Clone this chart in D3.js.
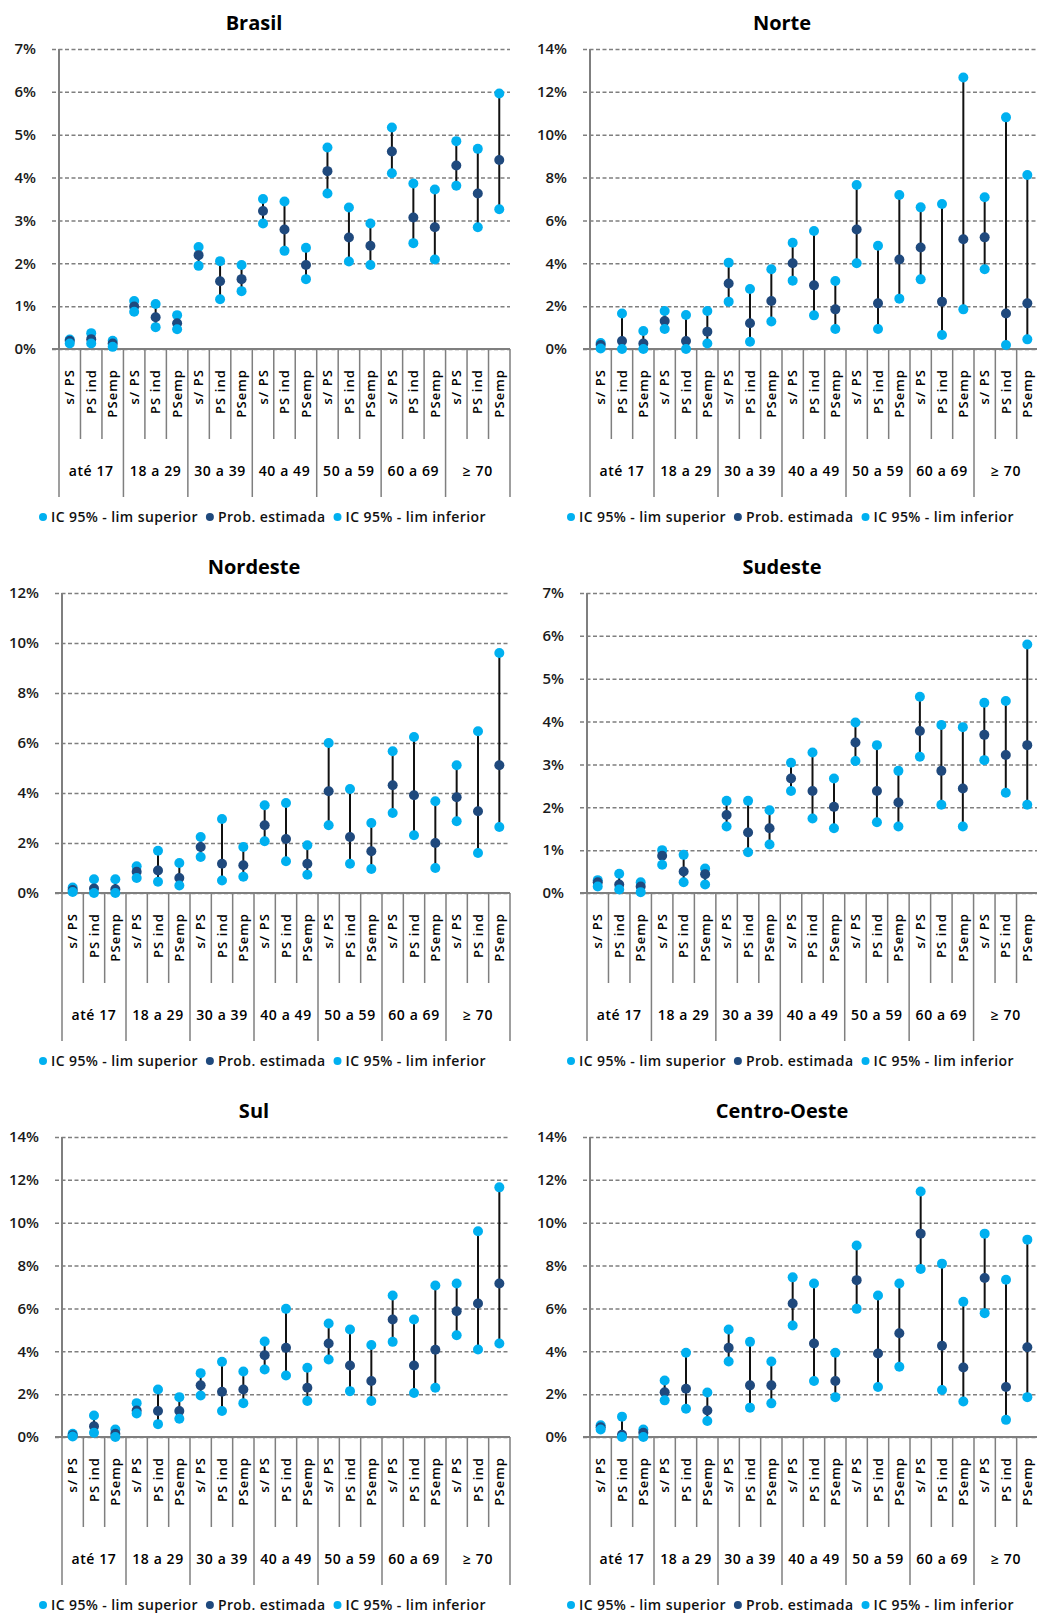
<!DOCTYPE html>
<html>
<head>
<meta charset="utf-8">
<script src="https://cdn.jsdelivr.net/npm/d3@7"></script>
<style>
  html, body { margin: 0; padding: 0; background: #fff; }
  svg { display: block; font-family: "Open Sans", "DejaVu Sans", sans-serif; }
</style>
</head>
<body>
<div id="chart"></div>
<script>
// ---------- data ----------
const categories = ["s/ PS", "PS ind", "PSemp"];
const ageGroups = ["até 17", "18 a 29", "30 a 39", "40 a 49", "50 a 59", "60 a 69", "≥ 70"];
const regions = ["Brasil", "Norte", "Nordeste", "Sudeste", "Sul", "Centro-Oeste"];
const yMaxes = [7, 14, 12, 7, 14, 14];
const ySteps = [1, 2, 2, 1, 2, 2];
const legendLabels = ["IC 95% - lim superior", "Prob. estimada", "IC 95% - lim inferior"];

const brasilUpper = [0.22,0.37,0.19, 1.12,1.05,0.79, 2.38,2.05,1.96, 3.50,3.44,2.36, 4.70,3.30,2.93, 5.17,3.86,3.72, 4.85,4.67,5.96];
const brasilEst   = [0.19,0.23,0.13, 0.99,0.74,0.60, 2.19,1.58,1.63, 3.22,2.79,1.96, 4.15,2.60,2.41, 4.61,3.07,2.84, 4.28,3.63,4.41];
const brasilLower = [0.13,0.13,0.05, 0.87,0.51,0.46, 1.94,1.16,1.35, 2.93,2.29,1.63, 3.63,2.04,1.96, 4.10,2.47,2.09, 3.81,2.84,3.26];

const norteUpper = [0.28,1.66,0.84, 1.77,1.59,1.77, 4.03,2.80,3.72, 4.96,5.51,3.17, 7.65,4.82,7.19, 6.61,6.77,12.67, 7.08,10.81,8.12];
const norteEst   = [0.19,0.37,0.26, 1.31,0.37,0.81, 3.06,1.20,2.24, 4.00,2.97,1.85, 5.58,2.13,4.18, 4.74,2.21,5.12, 5.21,1.66,2.13];
const norteLower = [0.02,0.00,0.00, 0.93,0.00,0.26, 2.21,0.34,1.28, 3.19,1.57,0.93, 4.00,0.93,2.35, 3.25,0.65,1.85, 3.72,0.19,0.45];

const nordesteUpper = [0.22,0.55,0.55, 1.07,1.69,1.20, 2.24,2.96,1.84, 3.51,3.60,1.91, 6.00,4.16,2.80, 5.67,6.24,3.67, 5.11,6.47,9.60];
const nordesteEst   = [0.12,0.18,0.15, 0.85,0.90,0.60, 1.84,1.17,1.11, 2.71,2.16,1.17, 4.07,2.24,1.67, 4.31,3.91,2.00, 3.83,3.27,5.11];
const nordesteLower = [0.04,0.00,0.00, 0.60,0.45,0.30, 1.44,0.50,0.65, 2.07,1.27,0.73, 2.71,1.17,0.96, 3.20,2.31,1.00, 2.87,1.60,2.64];

const sudesteUpper = [0.30,0.45,0.25, 1.00,0.89,0.57, 2.15,2.15,1.93, 3.04,3.28,2.67, 3.98,3.45,2.85, 4.58,3.92,3.87, 4.44,4.48,5.80];
const sudesteEst   = [0.25,0.20,0.15, 0.87,0.50,0.44, 1.82,1.41,1.51, 2.67,2.38,2.01, 3.51,2.38,2.11, 3.78,2.85,2.44, 3.69,3.22,3.45];
const sudesteLower = [0.15,0.08,0.02, 0.66,0.25,0.20, 1.55,0.95,1.13, 2.38,1.74,1.51, 3.08,1.65,1.55, 3.18,2.06,1.55, 3.10,2.34,2.06];

const sulUpper = [0.15,1.00,0.35, 1.58,2.22,1.86, 2.98,3.51,3.06, 4.46,5.98,3.23, 5.30,5.02,4.29, 6.60,5.48,7.07, 7.16,9.60,11.65];
const sulEst   = [0.08,0.50,0.15, 1.24,1.21,1.21, 2.41,2.11,2.22, 3.82,4.16,2.30, 4.36,3.34,2.61, 5.48,3.34,4.07, 5.87,6.23,7.16];
const sulLower = [0.02,0.20,0.00, 1.10,0.60,0.85, 1.94,1.21,1.58, 3.15,2.87,1.68, 3.62,2.14,1.68, 4.44,2.05,2.30, 4.75,4.08,4.36];

const coUpper = [0.55,0.95,0.35, 2.64,3.93,2.08, 5.02,4.44,3.52, 7.45,7.16,3.93, 8.94,6.60,7.16, 11.46,8.09,6.31, 9.49,7.34,9.21];
const coEst   = [0.45,0.10,0.20, 2.09,2.25,1.24, 4.16,2.41,2.41, 6.23,4.36,2.61, 7.32,3.90,4.84, 9.49,4.26,3.24, 7.42,2.33,4.19];
const coLower = [0.35,0.00,0.00, 1.71,1.32,0.75, 3.52,1.37,1.57, 5.20,2.61,1.86, 5.98,2.33,3.28, 7.84,2.19,1.66, 5.78,0.80,1.86];

const regionUpper = [brasilUpper, norteUpper, nordesteUpper, sudesteUpper, sulUpper, coUpper];
const regionEst   = [brasilEst, norteEst, nordesteEst, sudesteEst, sulEst, coEst];
const regionLower = [brasilLower, norteLower, nordesteLower, sudesteLower, sulLower, coLower];

// ---------- styles ----------
const LIGHT = "#00B0F0";
const DARK = "#1F497D";
const GRID = "#7f7f7f";

const W = 1037, H = 1616;
const svg = d3.select("#chart").append("svg").attr("width", W).attr("height", H);
svg.append("rect").attr("width", W).attr("height", H).attr("fill", "#fff");

const catLabels = ageGroups.flatMap(() => categories);

regions.forEach((name, i) => {
  const col = i % 2, row = Math.floor(i / 2);
  const ox = col * 528, oy = row * 544;
  const yMax = yMaxes[i], step = ySteps[i];
  const x0 = ox + (yMax >= 10 ? 62 : 59);
  const x1 = ox + 510;
  const top = oy + 49, bottom = oy + 349;

  const g = svg.append("g");

  const x = d3.scaleBand().domain(d3.range(catLabels.length)).range([x0, x1]).padding(0);
  const y = d3.scaleLinear().domain([0, yMax]).range([bottom, top]);
  const ticks = d3.range(0, yMax + step / 2, step);

  // title
  g.append("text").attr("x", ox + 254).attr("y", oy + 30)
    .attr("text-anchor", "middle").attr("font-size", 20).attr("font-weight", 700)
    .attr("fill", "#000").text(name);

  // y axis with gridlines
  const yAxis = d3.axisLeft(y).tickValues(ticks).tickFormat(d => d + "%")
    .tickSize(-(x1 - x0 + 7)).tickPadding(16);
  const ag = g.append("g").attr("transform", `translate(${x0 - 7},0)`).call(yAxis);
  ag.select(".domain").remove();
  ag.selectAll(".tick line").attr("stroke", GRID).attr("stroke-width", 1.5)
    .attr("stroke-dasharray", "4,2.5");
  ag.selectAll(".tick text").attr("font-size", 15).attr("font-weight", 600)
    .attr("fill", "#1a1a1a").attr("font-family", "'Open Sans', sans-serif");

  // axis lines
  g.append("line").attr("x1", x0).attr("x2", x0).attr("y1", top).attr("y2", bottom)
    .attr("stroke", GRID).attr("stroke-width", 2);
  g.append("line").attr("x1", x0 - 7).attr("x2", x1).attr("y1", bottom).attr("y2", bottom)
    .attr("stroke", GRID).attr("stroke-width", 2);

  // category separators
  const bw = x.bandwidth();
  d3.range(catLabels.length + 1).forEach(k => {
    const xx = x0 + k * bw;
    const isGroup = k % 3 === 0;
    g.append("line").attr("x1", xx).attr("x2", xx).attr("y1", bottom)
      .attr("y2", oy + (isGroup ? 497 : 439))
      .attr("stroke", GRID).attr("stroke-width", 1.5);
  });

  // category labels (rotated)
  catLabels.forEach((lab, k) => {
    const cx = x(k) + bw / 2;
    g.append("text")
      .attr("transform", `translate(${cx},${oy + 369}) rotate(-90)`)
      .attr("text-anchor", "end").attr("dy", "0.36em")
      .attr("font-size", 13).attr("font-weight", 600).attr("letter-spacing", 1.1).attr("fill", "#000")
      .text(lab);
  });

  // group labels
  ageGroups.forEach((lab, k) => {
    const cx = x0 + (k * 3 + 1.5) * bw;
    g.append("text").attr("x", cx).attr("y", oy + 471).attr("dy", "0.35em")
      .attr("text-anchor", "middle").attr("font-size", 14).attr("font-weight", 600)
      .attr("letter-spacing", 0.6).attr("fill", "#000").text(lab);
  });

  // data
  const upper = regionUpper[i], est = regionEst[i], lower = regionLower[i];
  const pts = catLabels.map((c, k) => ({ k, u: upper[k], e: est[k], l: lower[k] }));

  g.selectAll(".hl").data(pts).join("line")
    .attr("x1", d => x(d.k) + bw / 2).attr("x2", d => x(d.k) + bw / 2)
    .attr("y1", d => y(d.u)).attr("y2", d => y(d.l))
    .attr("stroke", "#111").attr("stroke-width", 2);

  const R = 5;
  g.selectAll(".up").data(pts).join("circle")
    .attr("cx", d => x(d.k) + bw / 2).attr("cy", d => y(d.u)).attr("r", R).attr("fill", LIGHT);
  g.selectAll(".es").data(pts).join("circle")
    .attr("cx", d => x(d.k) + bw / 2).attr("cy", d => y(d.e)).attr("r", R).attr("fill", DARK);
  g.selectAll(".lo").data(pts).join("circle")
    .attr("cx", d => x(d.k) + bw / 2).attr("cy", d => y(d.l)).attr("r", R).attr("fill", LIGHT);

  // legend
  const legColors = [LIGHT, DARK, LIGHT];
  let lx = ox + 43;
  const ly = oy + 517;
  legendLabels.forEach((lab, k) => {
    g.append("circle").attr("cx", lx).attr("cy", ly).attr("r", 4).attr("fill", legColors[k]);
    const t = g.append("text").attr("x", lx + 8).attr("y", ly).attr("dy", "0.35em")
      .attr("font-size", 14).attr("font-weight", 600).attr("letter-spacing", 0.4)
      .attr("fill", "#111").text(lab);
    lx = lx + 8 + t.node().getComputedTextLength() + 12;
  });
});
</script>
</body>
</html>
